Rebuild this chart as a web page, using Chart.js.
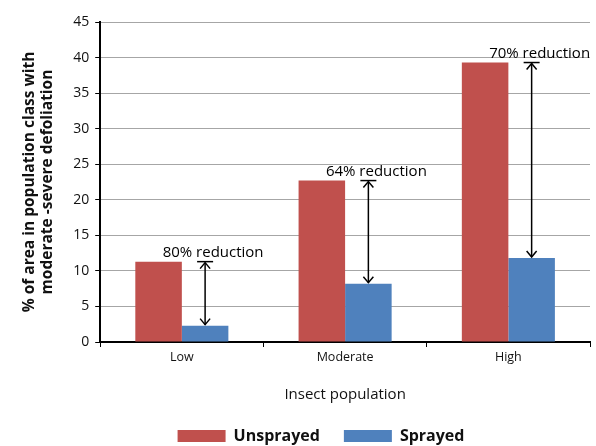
<!DOCTYPE html>
<html>
<head>
<meta charset="utf-8">
<script src="https://cdn.jsdelivr.net/npm/chart.js@4"></script>
<style>
  html, body { margin: 0; padding: 0; background: #fff; }
  #wrap { width: 596px; height: 446px; overflow: hidden; }
</style>
</head>
<body>
<div id="wrap"><canvas id="myChart" width="596" height="454"></canvas></div>
<script>
// data
var categories = ['Low', 'Moderate', 'High'];
var unsprayed = [11.3, 22.7, 39.3];
var sprayed = [2.3, 8.2, 11.8];
var reductionLabels = ['80% reduction', '64% reduction', '70% reduction'];
var yTicks = [0, 5, 10, 15, 20, 25, 30, 35, 40, 45];

var fontFamily = '"Open Sans", "Noto Sans", sans-serif';

// arrows between unsprayed top and sprayed top, drawn at the sprayed bar
var reductionArrows = {
    id: 'reductionArrows',
    afterLayout: function(chart) {
        // legend sits a bit right of the canvas centre in the original
        chart.legend.left += 16;
        chart.legend.right += 16;
    },
    afterDatasetsDraw: function(chart) {
        var ctx = chart.ctx;
        var y = chart.scales.y;
        var meta = chart.getDatasetMeta(1);
        ctx.save();
        ctx.strokeStyle = '#000';
        ctx.fillStyle = '#000';
        ctx.lineWidth = 1.5;
        for (var i = 0; i < categories.length; i++) {
            var x = meta.data[i].x;
            var yTop = y.getPixelForValue(unsprayed[i]);
            var yBot = y.getPixelForValue(sprayed[i]);
            // cap line
            ctx.beginPath();
            ctx.moveTo(x - 8, yTop);
            ctx.lineTo(x + 8, yTop);
            ctx.stroke();
            // shaft
            ctx.beginPath();
            ctx.moveTo(x, yTop + 1);
            ctx.lineTo(x, yBot - 1);
            ctx.stroke();
            // heads
            ctx.beginPath();
            ctx.moveTo(x - 5, yTop + 7);
            ctx.lineTo(x, yTop + 1);
            ctx.lineTo(x + 5, yTop + 7);
            ctx.stroke();
            ctx.beginPath();
            ctx.moveTo(x - 5, yBot - 7);
            ctx.lineTo(x, yBot - 1);
            ctx.lineTo(x + 5, yBot - 7);
            ctx.stroke();
            // label
            ctx.font = '15px ' + fontFamily;
            ctx.textAlign = 'center';
            ctx.textBaseline = 'bottom';
            ctx.fillText(reductionLabels[i], x + 8, yTop - 1);
        }
        ctx.restore();
    }
};

var ctx = document.getElementById('myChart').getContext('2d');
window.myChart = new Chart(ctx, {
    type: 'bar',
    data: {
        labels: categories,
        datasets: [{
                label: 'Unsprayed',
                data: unsprayed,
                backgroundColor: '#C0504D'
            },
            {
                label: 'Sprayed',
                data: sprayed,
                backgroundColor: '#4F81BD'
            }
        ]
    },
    options: {
        responsive: false,
        animation: false,
        devicePixelRatio: 1,
        categoryPercentage: 0.57,
        barPercentage: 1.0,
        layout: {
            padding: { top: 22, right: 6, left: 20, bottom: 0 }
        },
        plugins: {
            tooltip: { enabled: false },
            legend: {
                position: 'bottom',
                labels: {
                    boxWidth: 48,
                    boxHeight: 12,
                    padding: 24,
                    color: '#111',
                    font: { family: fontFamily, size: 16, weight: 'bold' }
                }
            }
        },
        scales: {
            x: {
                grid: {
                    display: true,
                    drawOnChartArea: false,
                    drawTicks: true,
                    tickLength: 5,
                    tickColor: '#000'
                },
                border: { color: '#000', width: 2 },
                ticks: {
                    color: '#111',
                    font: { family: fontFamily, size: 12.5 },
                    padding: 3
                },
                title: {
                    display: true,
                    text: 'Insect population',
                    color: '#111',
                    font: { family: fontFamily, size: 15 },
                    padding: { top: 18, bottom: 0 }
                }
            },
            y: {
                min: 0,
                max: 45,
                afterBuildTicks: function(axis) {
                    axis.ticks = yTicks.map(function(v) { return { value: v }; });
                },
                grid: {
                    color: '#a6a6a6',
                    lineWidth: 1,
                    tickLength: 5,
                    tickColor: '#000'
                },
                border: { color: '#000', width: 2 },
                ticks: {
                    color: '#111',
                    font: { family: fontFamily, size: 14 },
                    padding: 6
                },
                title: {
                    display: true,
                    text: ['% of area in population class with', 'moderate -severe defoliation'],
                    color: '#111',
                    font: { family: fontFamily, size: 15.5, weight: 'bold' },
                    padding: { top: 0, bottom: 10 }
                }
            }
        }
    },
    plugins: [reductionArrows]
});
</script>
</body>
</html>
